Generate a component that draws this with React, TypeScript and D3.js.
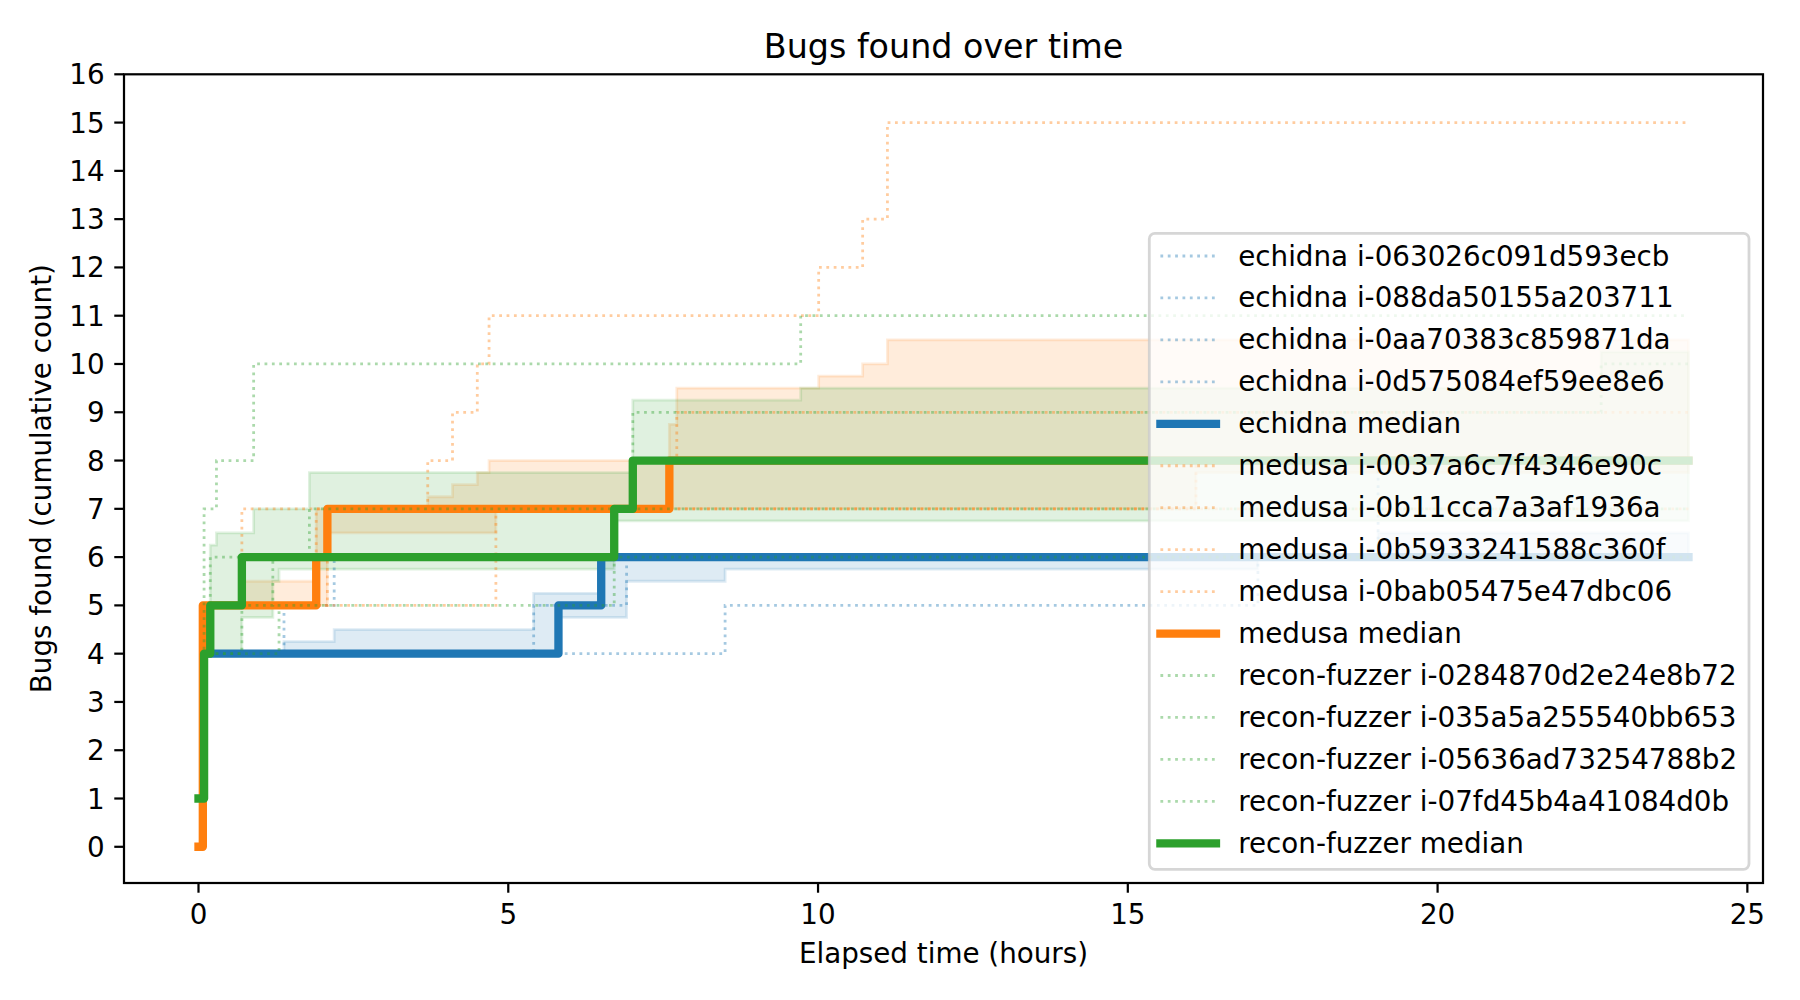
import React from 'react';
import * as d3 from 'd3';

type Step = [number, number];
type BandStep = [number, number, number];

// all runs stop at the same elapsed time
const END_TIME = 24.05;

const xTicks = [0, 5, 10, 15, 20, 25];
const yTicks = [0, 1, 2, 3, 4, 5, 6, 7, 8, 9, 10, 11, 12, 13, 14, 15, 16];

const echidnaLabels = [
  'echidna i-063026c091d593ecb',
  'echidna i-088da50155a203711',
  'echidna i-0aa70383c859871da',
  'echidna i-0d575084ef59ee8e6',
];
const echidnaRuns: Step[][] = [
  [[0.09, 4], [8.5, 5], [17.1, 6]],
  [[0.09, 4], [1.38, 5], [2.19, 6], [19.04, 8]],
  [[0.09, 4], [5.41, 5], [6.5, 6]],
  [[0.09, 4], [5.81, 5], [6.91, 6]],
];
const echidnaMedian: Step[] = [[0.09, 4], [5.81, 5], [6.5, 6]];
const echidnaBand: BandStep[] = [
  [0.09, 4, 4], [1.38, 4, 4.25], [2.19, 4, 4.5], [5.41, 4, 5.25], [5.81, 4.75, 5.25],
  [6.5, 4.75, 6], [6.91, 5.5, 6], [8.5, 5.75, 6], [17.1, 6, 6], [19.04, 6, 6.5],
];

const medusaLabels = [
  'medusa i-0037a6c7f4346e90c',
  'medusa i-0b11cca7a3af1936a',
  'medusa i-0b5933241588c360f',
  'medusa i-0bab05475e47dbc06',
];
const medusaRuns: Step[][] = [
  [[0, 0], [0.07, 5], [0.7, 7], [3.7, 8], [4.1, 9], [4.5, 10], [4.69, 11], [10.01, 12], [10.72, 13], [11.12, 15]],
  [[0, 0], [0.07, 5], [4.8, 7], [16.1, 8]],
  [[0, 0], [0.07, 5], [1.9, 7], [7.6, 8], [7.72, 9]],
  [[0, 0], [0.07, 5], [2.08, 7]],
];
const medusaMedian: Step[] = [[0, 0], [0.07, 5], [1.9, 6], [2.08, 7], [7.6, 8]];
const medusaBand: BandStep[] = [
  [0.07, 5, 5], [0.7, 5, 5.5], [1.9, 5, 7], [2.08, 6.5, 7], [3.7, 6.5, 7.25], [4.1, 6.5, 7.5],
  [4.5, 6.5, 7.75], [4.69, 6.5, 8], [4.8, 7, 8], [7.6, 7, 8.75], [7.72, 7, 9.5], [10.01, 7, 9.75],
  [10.72, 7, 10], [11.12, 7, 10.5], [16.1, 7.75, 10.5],
];

const reconLabels = [
  'recon-fuzzer i-0284870d2e24e8b72',
  'recon-fuzzer i-035a5a255540bb653',
  'recon-fuzzer i-05636ad73254788b2',
  'recon-fuzzer i-07fd45b4a41084d0b',
];
const reconRuns: Step[][] = [
  [[0, 1], [0.09, 7], [0.29, 8], [0.89, 10], [9.72, 11]],
  [[0, 1], [0.09, 4], [0.19, 6], [1.79, 7], [7.01, 9], [22.64, 10]],
  [[0, 1], [0.09, 4], [0.7, 5], [1.2, 6], [6.71, 7]],
  [[0, 1], [0.09, 4], [1.3, 5], [6.71, 6]],
];
const reconMedian: Step[] = [[0, 1], [0.09, 4], [0.19, 5], [0.7, 6], [6.71, 7], [7.01, 8]];
const reconBand: BandStep[] = [
  [0.19, 4, 6.25], [0.29, 4, 6.5], [0.7, 4.75, 6.5], [0.89, 4.75, 7], [1.2, 5.5, 7],
  [1.3, 5.75, 7], [1.79, 5.75, 7.75], [6.71, 6.75, 7.75], [7.01, 6.75, 9.25],
  [9.72, 6.75, 9.5], [22.64, 6.75, 10.25],
];

const tools = [
  {name: 'echidna', color: '#1f77b4', labels: echidnaLabels, runs: echidnaRuns, median: echidnaMedian, band: echidnaBand},
  {name: 'medusa', color: '#ff7f0e', labels: medusaLabels, runs: medusaRuns, median: medusaMedian, band: medusaBand},
  {name: 'recon-fuzzer', color: '#2ca02c', labels: reconLabels, runs: reconRuns, median: reconMedian, band: reconBand},
];

const PT = 200 / 72;
const FONT = 'DejaVu Sans, sans-serif';
const FS = 10 * PT;

const sizing = {
  width: 1800,
  height: 1000,
  left: 124,
  right: 1763,
  top: 74.3,
  bottom: 883,
};

const withEnd = (steps: Step[]): Step[] => [...steps, [END_TIME, steps[steps.length - 1][1]]];
const bandWithEnd = (steps: BandStep[]): BandStep[] => {
  const last = steps[steps.length - 1];
  return [...steps, [END_TIME, last[1], last[2]]];
};

export default function App() {
  const xScale = d3.scaleLinear().domain([-1.2025, 25.2525]).range([sizing.left, sizing.right]);
  const yScale = d3.scaleLinear().domain([-0.75, 16]).range([sizing.bottom, sizing.top]);

  const line = d3.line<Step>()
    .x(d => xScale(d[0]))
    .y(d => yScale(d[1]))
    .curve(d3.curveStepAfter);

  const area = d3.area<BandStep>()
    .x(d => xScale(d[0]))
    .y0(d => yScale(d[1]))
    .y1(d => yScale(d[2]))
    .curve(d3.curveStepAfter);

  const dotted = `${PT} ${1.65 * PT}`;

  // legend entries follow plotting order
  const legendItems: {label: string; color: string; median: boolean}[] = [];
  tools.forEach(t => {
    t.labels.forEach(l => legendItems.push({label: l, color: t.color, median: false}));
    legendItems.push({label: `${t.name} median`, color: t.color, median: true});
  });

  const legend = {left: 1149.3, top: 233.3, width: 599.7, height: 636, firstRow: 256, rowStep: 41.95};
  const cx = (sizing.left + sizing.right) / 2;
  const cy = (sizing.top + sizing.bottom) / 2;
  const tickLen = 3.5 * PT;

  return (
    <div style={{position: 'absolute', left: 0, top: 0}}>
      <svg width={sizing.width} height={sizing.height} fontFamily={FONT} style={{display: 'block', background: '#fff'}}>
        <rect x={0} y={0} width={sizing.width} height={sizing.height} fill="#fff" />

        {/* interquartile bands */}
        {tools.map(t => (
          <path key={`band-${t.name}`} d={area(bandWithEnd(t.band)) || ''}
            fill={t.color} fillOpacity={0.15} stroke={t.color} strokeOpacity={0.15} strokeWidth={PT} />
        ))}

        {/* runs + median */}
        {tools.map(t => (
          <g key={`lines-${t.name}`}>
            {t.runs.map((r, i) => (
              <path key={i} d={line(withEnd(r)) || ''} fill="none" stroke={t.color} strokeOpacity={0.4}
                strokeWidth={PT} strokeDasharray={dotted} />
            ))}
            <path d={line(withEnd(t.median)) || ''} fill="none" stroke={t.color} strokeWidth={3 * PT}
              strokeLinejoin="round" strokeLinecap="square" />
          </g>
        ))}

        {/* axes frame */}
        <rect x={sizing.left} y={sizing.top} width={sizing.right - sizing.left} height={sizing.bottom - sizing.top}
          fill="none" stroke="#000" strokeWidth={0.8 * PT} />

        {xTicks.map(t => (
          <g key={`xt-${t}`} transform={`translate(${xScale(t)},${sizing.bottom})`}>
            <line y1={0} y2={tickLen} stroke="#000" strokeWidth={0.8 * PT} />
            <text y={2 * tickLen + 0.76 * FS} textAnchor="middle" fontSize={FS} fill="#000">{t}</text>
          </g>
        ))}
        {yTicks.map(t => (
          <g key={`yt-${t}`} transform={`translate(${sizing.left},${yScale(t)})`}>
            <line x1={0} x2={-tickLen} stroke="#000" strokeWidth={0.8 * PT} />
            <text x={-2 * tickLen} dy="0.36em" textAnchor="end" fontSize={FS} fill="#000">{t}</text>
          </g>
        ))}

        <text x={cx} y={963} textAnchor="middle" fontSize={FS} fill="#000">Elapsed time (hours)</text>
        <text transform={`translate(51,${cy}) rotate(-90)`} textAnchor="middle" fontSize={FS} fill="#000">
          Bugs found (cumulative count)
        </text>
        <text x={cx} y={57.6} textAnchor="middle" fontSize={12 * PT} fill="#000">Bugs found over time</text>

        {/* legend */}
        <g>
          <rect x={legend.left} y={legend.top} width={legend.width} height={legend.height} rx={0.2 * FS}
            fill="#fff" fillOpacity={0.8} stroke="#cccccc" strokeOpacity={0.8} strokeWidth={PT} />
          {legendItems.map((item, i) => {
            const y = legend.firstRow + i * legend.rowStep;
            const hx = legend.left + 0.4 * FS;
            return (
              <g key={item.label}>
                {item.median ? (
                  <line x1={hx} x2={hx + 2 * FS} y1={y} y2={y} stroke={item.color} strokeWidth={3 * PT} strokeLinecap="square" />
                ) : (
                  <line x1={hx} x2={hx + 2 * FS} y1={y} y2={y} stroke={item.color} strokeOpacity={0.4}
                    strokeWidth={PT} strokeDasharray={dotted} />
                )}
                <text x={hx + 2.8 * FS} y={y + 9.5} fontSize={FS} fill="#000">{item.label}</text>
              </g>
            );
          })}
        </g>
      </svg>
    </div>
  );
}
